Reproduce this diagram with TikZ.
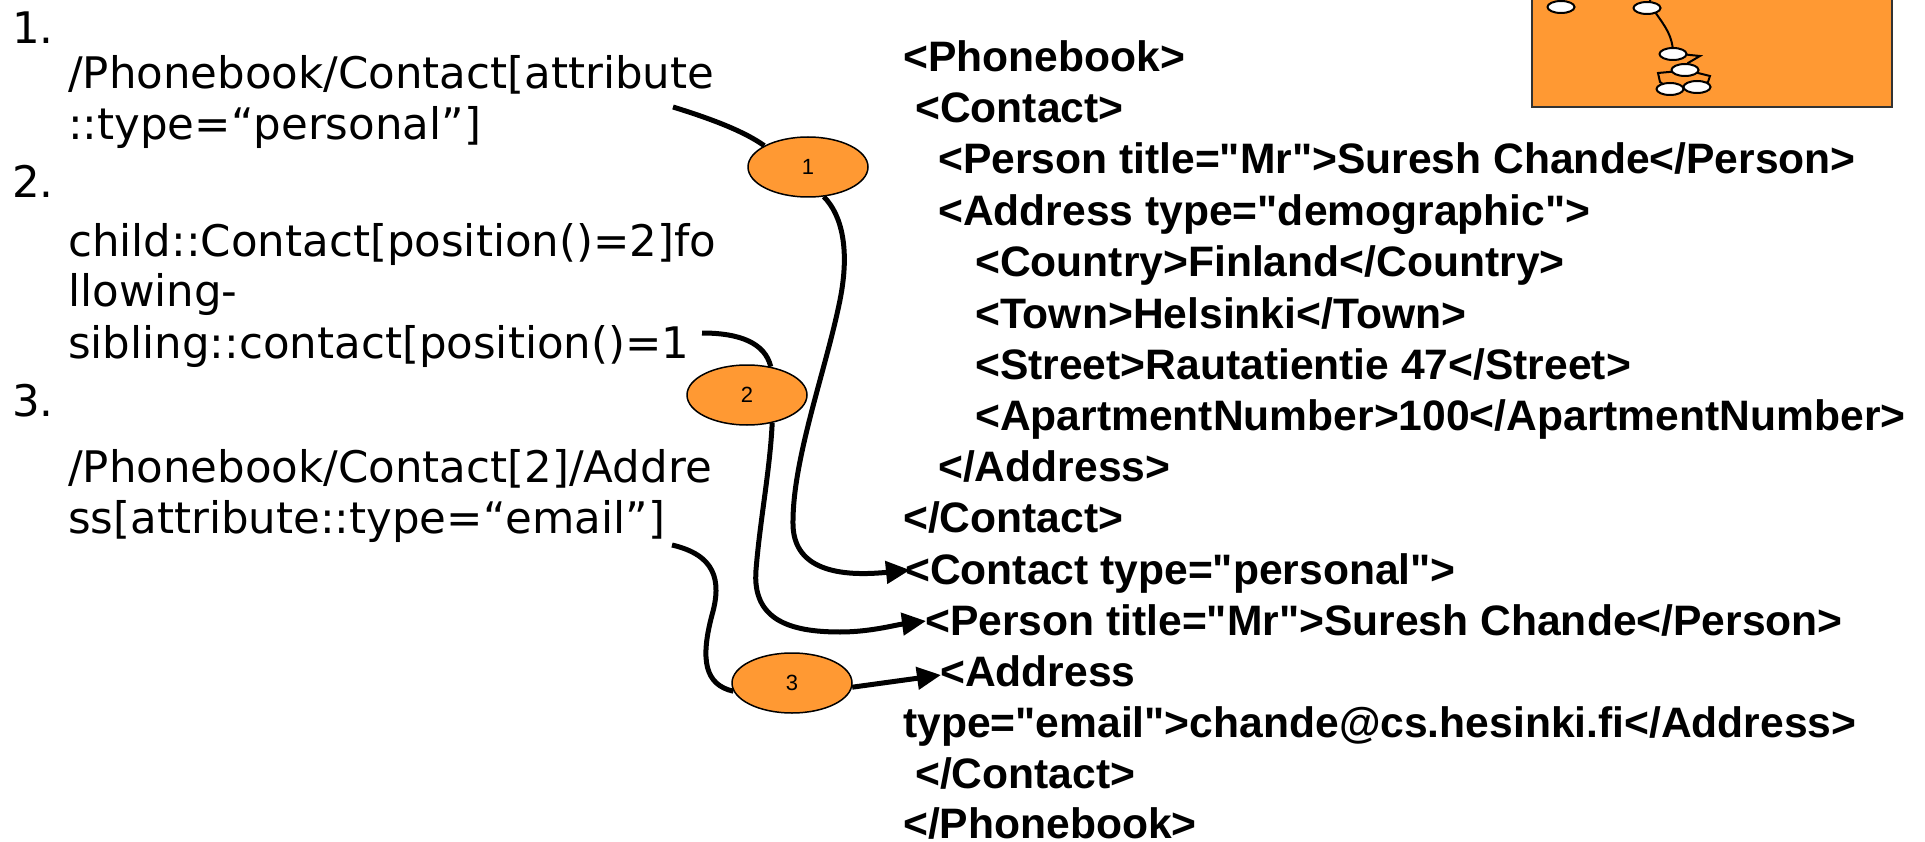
\documentclass[tikz,border=0pt]{standalone}
\usepackage{fontspec}
\setmainfont{Liberation Sans}
\newfontfamily\xmlfont{Liberation Sans}
\newfontfamily\verd{DejaVu Sans}
\usetikzlibrary{shapes.geometric,arrows.meta}
\definecolor{orng}{HTML}{FF9933}
\definecolor{boxline}{HTML}{333333}
\begin{document}
\begin{tikzpicture}[x=1pt,y=-1pt,
  xml/.style={font=\xmlfont\fontsize{42.6}{50}\selectfont\bfseries, anchor=base west, inner sep=0pt},
  xp/.style={font=\verd\fontsize{43.5}{50}\selectfont, anchor=base west, inner sep=0pt},
  numell/.style={ellipse, draw=black, line width=1.5pt, fill=orng, minimum width=120pt, minimum height=60pt, inner sep=0pt, font=\xmlfont\fontsize{22}{22}\selectfont},
  conn/.style={line width=5pt},
  arr/.style={conn, -{Triangle[length=24pt,width=22pt]}},
  tinyell/.style={ellipse, draw=black, line width=2pt, fill=white, minimum width=27pt, minimum height=12pt, inner sep=0pt},
  tinyline/.style={line width=2pt}]
\useasboundingbox (0,0) rectangle (1925,842);

% top-right orange box with tree
\draw[fill=orng, draw=boxline, line width=2pt] (1532,-10) rectangle (1892,107);
\coordinate (etop) at (1652,-4);
\draw[tinyline] (1647,8) -- (etop);
\draw[tinyline] (1655,12) to[out=-55,in=90] (1673,54);
\draw[tinyline] (1680,54) -- (1700,56) -- (1688,63) -- (1685,70);
\draw[tinyline] (1680,71) -- (1658,73) -- (1660,82) -- (1670,89);
\draw[tinyline] (1690,71) -- (1710,76) -- (1708,82) -- (1697,87);
\node[tinyell] (e1) at (1561,7) {};
\node[tinyell] (e2) at (1647,8) {};
\node[tinyell] (e3) at (1673,54) {};
\node[tinyell] (e4) at (1685,70) {};
\node[tinyell] (e5) at (1670,89) {};
\node[tinyell] (e6) at (1697,87) {};

% left XPath texts
\node[xp] (n1) at (12,44) {1.};
\node[xp] (l1a) at (68,89) {/Phonebook/Contact[attribute};
\node[xp] (l1b) at (68,140) {::type=“personal”]};
\node[xp] (n2) at (12,198) {2.};
\node[xp] (l2a) at (68,257) {child::Contact[position()=2]fo};
\node[xp] (l2b) at (68,307) {llowing-};
\node[xp] (l2c) at (68,359) {sibling::contact[position()=1};
\node[xp] (n3) at (12,416) {3.};
\node[xp] (l3a) at (68,482) {/Phonebook/Contact[2]/Addre};
\node[xp] (l3b) at (68,533) {ss[attribute::type=“email”]};

% right XML text
\node[xml] (r0) at (903,72) {<Phonebook>};
\node[xml] (r1) at (915,123) {<Contact>};
\node[xml] (r2) at (938,174) {<Person title="Mr">Suresh Chande</Person>};
\node[xml] (r3) at (938,225.5) {<Address type="demographic">};
\node[xml] (r4) at (975,277) {<Country>Finland</Country>};
\node[xml] (r5) at (975,328) {<Town>Helsinki</Town>};
\node[xml] (r6) at (975,379) {<Street>Rautatientie 47</Street>};
\node[xml] (r7) at (975,430) {<ApartmentNumber>100</ApartmentNumber>};
\node[xml] (r8) at (938,481) {</Address>};
\node[xml] (r9) at (903,532) {</Contact>};
\node[xml] (r10) at (905,584) {<Contact type="personal">};
\node[xml] (r11) at (925,635) {<Person title="Mr">Suresh Chande</Person>};
\node[xml] (r12) at (940,686) {<Address};
\node[xml] (r13) at (903,737) {type="email">chande@cs.hesinki.fi</Address>};
\node[xml] (r14) at (915,788) {</Contact>};
\node[xml] (r15) at (903,838) {</Phonebook>};

% numbered ellipses
\node[numell] (o1) at (808,167) {1};
\node[numell] (o2) at (747,395) {2};
\node[numell] (o3) at (792,683) {3};

% connector ends
\coordinate (c1s) at (673,107);
\coordinate (c2s) at (702,333);
\coordinate (c3s) at (672,545);
\coordinate (t1) at (910,570);
\coordinate (t2) at (926,621);
\coordinate (t3) at (941,675);

% connectors
\draw[conn] (c1s) .. controls (715,120) and (745,132) .. (o1.154);
\draw[arr] (o1.-62) .. controls (842,215) and (850,250) .. (840,300)
  .. controls (826,370) and (792,460) .. (793,525)
  .. controls (794,565) and (830,578) .. (t1);
\draw[conn] (c2s) .. controls (740,333) and (765,343) .. (o2.50);
\draw[arr] (o2.-48) .. controls (770,470) and (760,520) .. (756,570)
  .. controls (752,620) and (790,632) .. (840,632)
  .. controls (870,632) and (895,625) .. (t2);
\draw[conn] (c3s) .. controls (715,555) and (722,580) .. (712,615)
  .. controls (700,660) and (705,685) .. (o3.188);
\draw[arr] (o3.-4) -- (t3);
\end{tikzpicture}
\end{document}
